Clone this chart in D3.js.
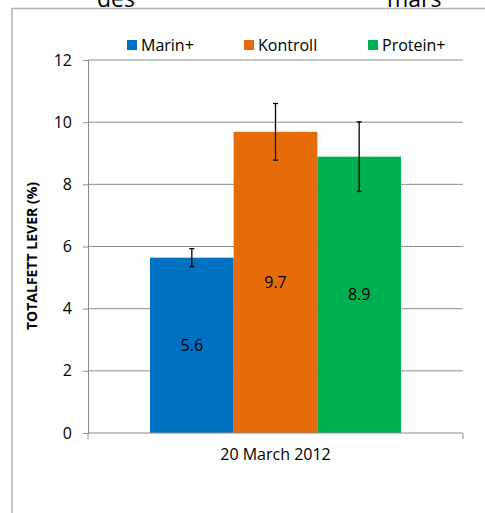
<!DOCTYPE html>
<html>
<head>
<meta charset="utf-8">
<script src="https://cdn.jsdelivr.net/npm/d3@7"></script>
<style>
  body { margin: 0; background: #fff; }
  text { font-family: "Open Sans", "Noto Sans", sans-serif; }
</style>
</head>
<body>
<div id="chart"></div>
<script>
const groups = ['Marin+', 'Kontroll', 'Protein+']
const values = [5.64, 9.69, 8.89]
const errors = [0.29, 0.91, 1.12]
const colors = ['#0070c0', '#e46c0a', '#00b050']
const category = ['20 March 2012']
const yTicks = [0, 2, 4, 6, 8, 10, 12]

const width = 485
const height = 513
const plotL = 88, plotR = 463, plotT = 60, plotB = 433

const svg = d3.select('#chart').append('svg')
    .attr('width', width)
    .attr('height', height)

// cut-off title words from above
svg.append('text').attr('x', 97).attr('y', 7).attr('font-size', 23).attr('fill', '#000').text('des')
svg.append('text').attr('x', 387).attr('y', 7).attr('font-size', 23).attr('fill', '#000').text('mars')

// chart frame
svg.append('path')
    .attr('d', `M12,${height + 2}V8.5H${width + 2}`)
    .attr('fill', 'none')
    .attr('stroke', '#b3b3b3')
    .attr('stroke-width', 1.5)

const y = d3.scaleLinear().domain([0, 12]).range([plotB, plotT])
const x0 = d3.scaleBand().domain(category).range([plotL, plotR]).paddingInner(0).paddingOuter(0.247)
const x1 = d3.scaleBand().domain(groups).range([0, x0.bandwidth()])

// gridlines
svg.append('g').selectAll('line')
    .data(yTicks.filter(d => d > 0))
    .join('line')
    .attr('x1', plotL).attr('x2', plotR)
    .attr('y1', d => y(d)).attr('y2', d => y(d))
    .attr('stroke', '#8c8c8c').attr('stroke-width', 1)

// y axis
const yAxis = svg.append('g')
    .attr('transform', `translate(${plotL},0)`)
    .call(d3.axisLeft(y).tickValues(yTicks).tickSize(5).tickPadding(11))
yAxis.select('.domain').attr('stroke', '#8c8c8c')
yAxis.selectAll('.tick line').attr('stroke', '#8c8c8c')
yAxis.selectAll('.tick text').attr('font-size', 16).attr('fill', '#000')
    .style('font-family', '"Open Sans", sans-serif')

// bars
const g = svg.append('g').attr('transform', `translate(${x0(category[0])},0)`)
g.selectAll('rect')
    .data(groups)
    .join('rect')
    .attr('x', d => x1(d))
    .attr('width', x1.bandwidth())
    .attr('y', (d, i) => y(values[i]))
    .attr('height', (d, i) => y(0) - y(values[i]))
    .attr('fill', (d, i) => colors[i])

// error bars
const eb = g.selectAll('g.err')
    .data(groups)
    .join('g')
    .attr('class', 'err')
    .attr('stroke', '#000')
    .attr('stroke-width', 1.3)
eb.append('line')
    .attr('x1', d => x1(d) + x1.bandwidth() / 2).attr('x2', d => x1(d) + x1.bandwidth() / 2)
    .attr('y1', (d, i) => y(values[i] + errors[i])).attr('y2', (d, i) => y(values[i] - errors[i]))
eb.append('line')
    .attr('x1', d => x1(d) + x1.bandwidth() / 2 - 2.5).attr('x2', d => x1(d) + x1.bandwidth() / 2 + 2.5)
    .attr('y1', (d, i) => y(values[i] + errors[i])).attr('y2', (d, i) => y(values[i] + errors[i]))
eb.append('line')
    .attr('x1', d => x1(d) + x1.bandwidth() / 2 - 2.5).attr('x2', d => x1(d) + x1.bandwidth() / 2 + 2.5)
    .attr('y1', (d, i) => y(values[i] - errors[i])).attr('y2', (d, i) => y(values[i] - errors[i]))

// value labels
g.selectAll('text.val')
    .data(groups)
    .join('text')
    .attr('class', 'val')
    .attr('x', d => x1(d) + x1.bandwidth() / 2)
    .attr('y', (d, i) => (y(values[i]) + y(0)) / 2)
    .attr('dy', '0.35em')
    .attr('text-anchor', 'middle')
    .attr('font-size', 16)
    .text((d, i) => values[i].toFixed(1))

// x axis
const xAxis = svg.append('g')
    .attr('transform', `translate(0,${plotB})`)
    .call(d3.axisBottom(x0).tickSize(0).tickPadding(16))
xAxis.select('.domain').remove()
xAxis.append('path')
    .attr('d', `M${plotL},0H${plotR}V6M${plotL},0V6`)
    .attr('fill', 'none').attr('stroke', '#8c8c8c')
xAxis.selectAll('.tick text').attr('font-size', 16).attr('fill', '#000')
    .style('font-family', '"Open Sans", sans-serif')

// y axis title
svg.append('text')
    .attr('transform', 'translate(37,256) rotate(-90)')
    .attr('text-anchor', 'middle')
    .attr('font-size', 14)
    .attr('font-weight', 'bold')
    .text('TOTALFETT LEVER (%)')

// legend
const legendX = [127, 244, 368]
const lg = svg.append('g').selectAll('g')
    .data(groups)
    .join('g')
    .attr('transform', (d, i) => `translate(${legendX[i]},40)`)
lg.append('rect').attr('width', 10).attr('height', 10).attr('fill', (d, i) => colors[i])
lg.append('text').attr('x', 14).attr('y', 5).attr('dy', '0.35em').attr('font-size', 16).text(d => d)
</script>
</body>
</html>
